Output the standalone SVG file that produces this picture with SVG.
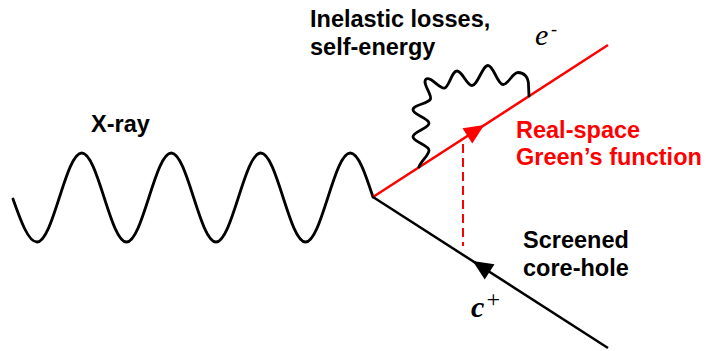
<svg xmlns="http://www.w3.org/2000/svg" width="706" height="351" viewBox="0 0 706 351">
<style>
.lbl{font-family:"Liberation Sans",Arial,sans-serif;font-weight:bold;font-size:23.5px;fill:#000}
.red{fill:#ff0000}
.sym{font-family:"Liberation Serif","Times New Roman",serif;font-style:italic;fill:#000}
.wave{fill:none;stroke:#000;stroke-width:2.8;stroke-linecap:round;stroke-linejoin:round}
.gline{fill:none;stroke:#ff0000;stroke-width:2.5}
.hline{fill:none;stroke:#000;stroke-width:2.5}
.dash{fill:none;stroke:#ff0000;stroke-width:2;stroke-dasharray:9 5}
</style>
<rect width="706" height="351" fill="#fff"/>
<g id="xray">
<path class="wave" d="M13,199 C20.8,221 28.3,242 37,242 C53.2,242 65.55,153 81.75,153 C97.95,153 110.3,242 126.5,242 C142.7,242 155.05,153 171.25,153 C187.45,153 199.8,242 216,242 C232.2,242 244.55,153 260.75,153 C276.95,153 289.3,242 305.5,242 C321.7,242 334.05,153 350.25,153 C358.5,153 365.6,174.5 373,197"/>
<text class="lbl" x="91" y="132">X-ray</text>
</g>
<g id="connectors">
<line class="gline" x1="373" y1="197" x2="608" y2="45"/>
<line class="hline" x1="373" y1="197" x2="608" y2="348"/>
<line class="dash" x1="463" y1="144" x2="463" y2="246"/>
<polygon fill="#ff0000" points="484.2,125 472.3,143.5 462.5,128.3"/>
<polygon fill="#000" points="472.7,261.1 484.7,279.5 494.5,264.3"/>
</g>
<g id="self-energy">
<path class="wave" d="M419,167 C421,161 429,155.2 429,150.2 C429,145.2 413,141.7 413,136.7 C413,131.7 429,128.2 429,123.2 C429,118.2 413,114.7 413,109.7 C413,104.7 428.5,103.7 430.4,99.1 C432.3,94.5 421.9,83.3 425.9,79.3 C429.9,75.3 439.2,88.6 444.2,88.1 C449.2,87.6 451.5,71 457,71 C462.5,71 466.5,85.5 472,85.5 C477.5,85.5 482.5,65.5 488,65.5 C493.5,65.5 497.5,84.5 503,84.5 C508.5,84.5 512.5,72.5 518,72.5 C524,72.5 528.5,77 528.5,85 L529,96"/>
<text class="lbl" x="310" y="27">Inelastic losses,</text>
<text class="lbl" x="310" y="54.5">self-energy</text>
</g>
<g id="electron">
<text class="sym" x="535" y="45" font-size="30">e</text>
<text class="sym" x="551" y="35" font-size="18" font-style="normal">-</text>
</g>
<g id="greens-function">
<text class="lbl red" x="516" y="137.5">Real-space</text>
<text class="lbl red" x="516" y="165">Green’s function</text>
</g>
<g id="core-hole">
<text class="lbl" x="523" y="248">Screened</text>
<text class="lbl" x="523" y="276">core-hole</text>
</g>
<g id="hole">
<text class="sym" x="471" y="317" font-size="30" font-weight="bold">c</text>
<text class="sym" x="485" y="307" font-size="24" font-style="normal">+</text>
</g>
</svg>
